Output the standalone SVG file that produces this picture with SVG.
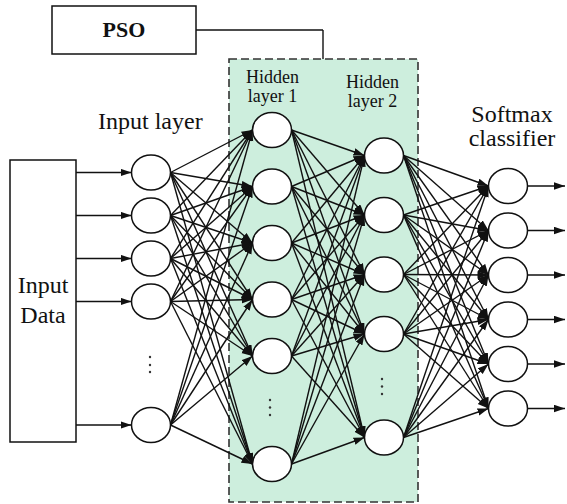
<svg xmlns="http://www.w3.org/2000/svg" width="567" height="504" viewBox="0 0 567 504">
<style>
.t{font-family:"Liberation Serif","Times New Roman",serif;fill:#111}
.n ellipse{fill:#fff;stroke:#111;stroke-width:1.5}
.c line{stroke:#111;stroke-width:1.4;fill:none}
.dot{fill:#333}
</style>
<defs>
<marker id="a" markerUnits="userSpaceOnUse" markerWidth="12" markerHeight="8" refX="11" refY="3.75" orient="auto"><path d="M0,0 L11,3.75 L0,7.5 z" fill="#111"/></marker>
</defs>
<rect id="hidden-region" x="229" y="59" width="189" height="443" fill="#cdeedd" stroke="#333" stroke-width="1.6" stroke-dasharray="8,4"/>
<g id="pso"><rect x="52" y="6" width="144" height="48" fill="#fff" stroke="#111" stroke-width="1.5"/><text class="t" x="124" y="37" font-size="22" font-weight="bold" text-anchor="middle">PSO</text></g>
<g id="input-data"><rect x="10" y="160" width="66" height="282" fill="#fff" stroke="#111" stroke-width="1.5"/><text class="t" x="43" y="293" font-size="24" text-anchor="middle">Input</text><text class="t" x="43" y="323" font-size="24" text-anchor="middle">Data</text></g>
<g class="t" font-size="24"><text x="98" y="129">Input layer</text><text x="512" y="122" text-anchor="middle">Softmax</text><text x="512" y="146" text-anchor="middle">classifier</text></g>
<g class="t" font-size="18" text-anchor="middle"><text x="272.5" y="83">Hidden</text><text x="272.5" y="102">layer 1</text><text x="372.5" y="88">Hidden</text><text x="372.5" y="107">layer 2</text></g>
<g id="connectors" class="c">
<line x1="196" y1="30" x2="323" y2="30"/><line x1="323" y1="30" x2="323" y2="59"/>
<g marker-end="url(#a)">
<line x1="76" y1="172.5" x2="131.5" y2="172.5"/><line x1="76" y1="215.5" x2="131.5" y2="215.5"/><line x1="76" y1="258.5" x2="131.5" y2="258.5"/><line x1="76" y1="301.5" x2="131.5" y2="301.5"/><line x1="76" y1="425" x2="131.5" y2="425"/>
<line x1="170.5" y1="172.5" x2="252.5" y2="130"/><line x1="170.5" y1="172.5" x2="252.5" y2="186.5"/><line x1="170.5" y1="172.5" x2="252.5" y2="243"/><line x1="170.5" y1="172.5" x2="252.5" y2="299.5"/><line x1="170.5" y1="172.5" x2="252.5" y2="356"/><line x1="170.5" y1="172.5" x2="252.5" y2="464"/>
<line x1="170.5" y1="215.5" x2="252.5" y2="130"/><line x1="170.5" y1="215.5" x2="252.5" y2="186.5"/><line x1="170.5" y1="215.5" x2="252.5" y2="243"/><line x1="170.5" y1="215.5" x2="252.5" y2="299.5"/><line x1="170.5" y1="215.5" x2="252.5" y2="356"/><line x1="170.5" y1="215.5" x2="252.5" y2="464"/>
<line x1="170.5" y1="258.5" x2="252.5" y2="130"/><line x1="170.5" y1="258.5" x2="252.5" y2="186.5"/><line x1="170.5" y1="258.5" x2="252.5" y2="243"/><line x1="170.5" y1="258.5" x2="252.5" y2="299.5"/><line x1="170.5" y1="258.5" x2="252.5" y2="356"/><line x1="170.5" y1="258.5" x2="252.5" y2="464"/>
<line x1="170.5" y1="301.5" x2="252.5" y2="130"/><line x1="170.5" y1="301.5" x2="252.5" y2="186.5"/><line x1="170.5" y1="301.5" x2="252.5" y2="243"/><line x1="170.5" y1="301.5" x2="252.5" y2="299.5"/><line x1="170.5" y1="301.5" x2="252.5" y2="356"/><line x1="170.5" y1="301.5" x2="252.5" y2="464"/>
<line x1="170.5" y1="425" x2="252.5" y2="130"/><line x1="170.5" y1="425" x2="252.5" y2="186.5"/><line x1="170.5" y1="425" x2="252.5" y2="243"/><line x1="170.5" y1="425" x2="252.5" y2="299.5"/><line x1="170.5" y1="425" x2="252.5" y2="356"/><line x1="170.5" y1="425" x2="252.5" y2="464"/>
<line x1="291.5" y1="130" x2="364.5" y2="155.5"/><line x1="291.5" y1="130" x2="364.5" y2="215"/><line x1="291.5" y1="130" x2="364.5" y2="274.5"/><line x1="291.5" y1="130" x2="364.5" y2="334"/><line x1="291.5" y1="130" x2="364.5" y2="437.5"/>
<line x1="291.5" y1="186.5" x2="364.5" y2="155.5"/><line x1="291.5" y1="186.5" x2="364.5" y2="215"/><line x1="291.5" y1="186.5" x2="364.5" y2="274.5"/><line x1="291.5" y1="186.5" x2="364.5" y2="334"/><line x1="291.5" y1="186.5" x2="364.5" y2="437.5"/>
<line x1="291.5" y1="243" x2="364.5" y2="155.5"/><line x1="291.5" y1="243" x2="364.5" y2="215"/><line x1="291.5" y1="243" x2="364.5" y2="274.5"/><line x1="291.5" y1="243" x2="364.5" y2="334"/><line x1="291.5" y1="243" x2="364.5" y2="437.5"/>
<line x1="291.5" y1="299.5" x2="364.5" y2="155.5"/><line x1="291.5" y1="299.5" x2="364.5" y2="215"/><line x1="291.5" y1="299.5" x2="364.5" y2="274.5"/><line x1="291.5" y1="299.5" x2="364.5" y2="334"/><line x1="291.5" y1="299.5" x2="364.5" y2="437.5"/>
<line x1="291.5" y1="356" x2="364.5" y2="155.5"/><line x1="291.5" y1="356" x2="364.5" y2="215"/><line x1="291.5" y1="356" x2="364.5" y2="274.5"/><line x1="291.5" y1="356" x2="364.5" y2="334"/><line x1="291.5" y1="356" x2="364.5" y2="437.5"/>
<line x1="291.5" y1="464" x2="364.5" y2="155.5"/><line x1="291.5" y1="464" x2="364.5" y2="215"/><line x1="291.5" y1="464" x2="364.5" y2="274.5"/><line x1="291.5" y1="464" x2="364.5" y2="334"/><line x1="291.5" y1="464" x2="364.5" y2="437.5"/>
<line x1="403.5" y1="155.5" x2="488.5" y2="186"/><line x1="403.5" y1="155.5" x2="488.5" y2="230.5"/><line x1="403.5" y1="155.5" x2="488.5" y2="275"/><line x1="403.5" y1="155.5" x2="488.5" y2="319.5"/><line x1="403.5" y1="155.5" x2="488.5" y2="364"/><line x1="403.5" y1="155.5" x2="488.5" y2="408.5"/>
<line x1="403.5" y1="215" x2="488.5" y2="186"/><line x1="403.5" y1="215" x2="488.5" y2="230.5"/><line x1="403.5" y1="215" x2="488.5" y2="275"/><line x1="403.5" y1="215" x2="488.5" y2="319.5"/><line x1="403.5" y1="215" x2="488.5" y2="364"/><line x1="403.5" y1="215" x2="488.5" y2="408.5"/>
<line x1="403.5" y1="274.5" x2="488.5" y2="186"/><line x1="403.5" y1="274.5" x2="488.5" y2="230.5"/><line x1="403.5" y1="274.5" x2="488.5" y2="275"/><line x1="403.5" y1="274.5" x2="488.5" y2="319.5"/><line x1="403.5" y1="274.5" x2="488.5" y2="364"/><line x1="403.5" y1="274.5" x2="488.5" y2="408.5"/>
<line x1="403.5" y1="334" x2="488.5" y2="186"/><line x1="403.5" y1="334" x2="488.5" y2="230.5"/><line x1="403.5" y1="334" x2="488.5" y2="275"/><line x1="403.5" y1="334" x2="488.5" y2="319.5"/><line x1="403.5" y1="334" x2="488.5" y2="364"/><line x1="403.5" y1="334" x2="488.5" y2="408.5"/>
<line x1="403.5" y1="437.5" x2="488.5" y2="186"/><line x1="403.5" y1="437.5" x2="488.5" y2="230.5"/><line x1="403.5" y1="437.5" x2="488.5" y2="275"/><line x1="403.5" y1="437.5" x2="488.5" y2="319.5"/><line x1="403.5" y1="437.5" x2="488.5" y2="364"/><line x1="403.5" y1="437.5" x2="488.5" y2="408.5"/>
<line x1="527.5" y1="186" x2="565" y2="186"/><line x1="527.5" y1="230.5" x2="565" y2="230.5"/><line x1="527.5" y1="275" x2="565" y2="275"/><line x1="527.5" y1="319.5" x2="565" y2="319.5"/><line x1="527.5" y1="364" x2="565" y2="364"/><line x1="527.5" y1="408.5" x2="565" y2="408.5"/>
</g>
</g>
<g class="n">
<g id="in1"><ellipse cx="151" cy="172.5" rx="19.5" ry="17.5"/></g>
<g id="in2"><ellipse cx="151" cy="215.5" rx="19.5" ry="17.5"/></g>
<g id="in3"><ellipse cx="151" cy="258.5" rx="19.5" ry="17.5"/></g>
<g id="in4"><ellipse cx="151" cy="301.5" rx="19.5" ry="17.5"/></g>
<g id="in5"><ellipse cx="151" cy="425" rx="19.5" ry="17.5"/></g>
<g id="h1a"><ellipse cx="272" cy="130" rx="19.5" ry="17.5"/></g>
<g id="h1b"><ellipse cx="272" cy="186.5" rx="19.5" ry="17.5"/></g>
<g id="h1c"><ellipse cx="272" cy="243" rx="19.5" ry="17.5"/></g>
<g id="h1d"><ellipse cx="272" cy="299.5" rx="19.5" ry="17.5"/></g>
<g id="h1e"><ellipse cx="272" cy="356" rx="19.5" ry="17.5"/></g>
<g id="h1f"><ellipse cx="272" cy="464" rx="19.5" ry="17.5"/></g>
<g id="h2a"><ellipse cx="384" cy="155.5" rx="19.5" ry="17.5"/></g>
<g id="h2b"><ellipse cx="384" cy="215" rx="19.5" ry="17.5"/></g>
<g id="h2c"><ellipse cx="384" cy="274.5" rx="19.5" ry="17.5"/></g>
<g id="h2d"><ellipse cx="384" cy="334" rx="19.5" ry="17.5"/></g>
<g id="h2e"><ellipse cx="384" cy="437.5" rx="19.5" ry="17.5"/></g>
<g id="s1"><ellipse cx="508" cy="186" rx="19.5" ry="17.5"/></g>
<g id="s2"><ellipse cx="508" cy="230.5" rx="19.5" ry="17.5"/></g>
<g id="s3"><ellipse cx="508" cy="275" rx="19.5" ry="17.5"/></g>
<g id="s4"><ellipse cx="508" cy="319.5" rx="19.5" ry="17.5"/></g>
<g id="s5"><ellipse cx="508" cy="364" rx="19.5" ry="17.5"/></g>
<g id="s6"><ellipse cx="508" cy="408.5" rx="19.5" ry="17.5"/></g>
</g>
<g class="dot">
<circle cx="150" cy="357" r="1.2"/><circle cx="150" cy="365" r="1.2"/><circle cx="150" cy="372" r="1.2"/>
<circle cx="270" cy="400" r="1.2"/><circle cx="270" cy="407.5" r="1.2"/><circle cx="270" cy="415" r="1.2"/>
<circle cx="382" cy="379" r="1.2"/><circle cx="382" cy="386.5" r="1.2"/><circle cx="382" cy="394" r="1.2"/>
</g>
</svg>
